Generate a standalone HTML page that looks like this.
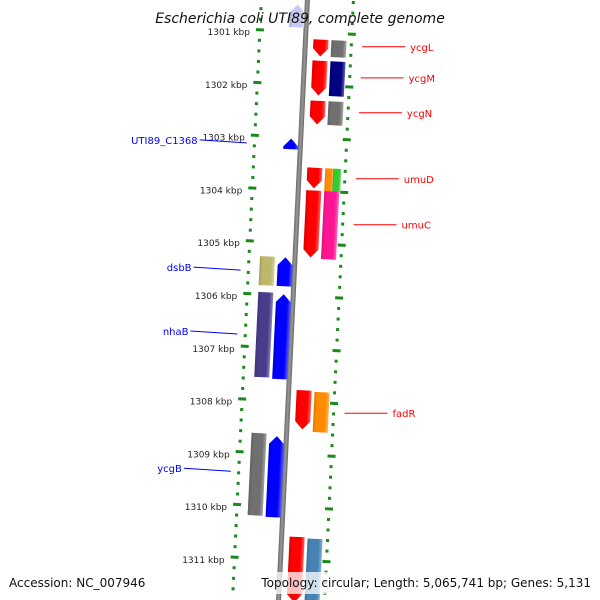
<!DOCTYPE html>
<html><head><meta charset="utf-8"><style>
html,body{margin:0;background:#fff;width:600px;height:600px;overflow:hidden}
svg{display:block;font-family:"DejaVu Sans","Liberation Sans",sans-serif;overflow:hidden}
</style></head><body>
<svg id="c" width="600" height="600" viewBox="0 0 600 600">
<defs>
<linearGradient id="shade" x1="0" x2="1" y1="0" y2="0">
<stop offset="0" stop-color="#000" stop-opacity="0.15"/>
<stop offset="0.2" stop-color="#000" stop-opacity="0"/>
<stop offset="0.75" stop-color="#fff" stop-opacity="0"/>
<stop offset="1" stop-color="#fff" stop-opacity="0.35"/>
</linearGradient>
<linearGradient id="bb" x1="0" x2="1"><stop offset="0" stop-color="#666"/><stop offset="0.5" stop-color="#999"/><stop offset="1" stop-color="#666"/></linearGradient>
<clipPath id="frame"><rect x="0" y="0" width="600" height="600"/></clipPath>
</defs>
<g clip-path="url(#frame)">
<g id="band" transform="rotate(2.75 305 50)"></g>
</g>
<g id="labels"></g>
<text x="300" y="23" text-anchor="middle" font-size="14" font-style="italic" fill="#111">Escherichia coli UTI89, complete genome</text>
<text x="9" y="587" font-size="12" fill="#111">Accession: NC_007946</text>
<rect x="258" y="572" width="336" height="22" fill="#fff" fill-opacity="0.75"/>
<text x="591" y="587" text-anchor="end" font-size="12" fill="#111">Topology: circular; Length: 5,065,741 bp; Genes: 5,131</text>
</svg>
<script>
const kbpTicks=[1301,1302,1303,1304,1305,1306,1307,1308,1309,1310,1311];
const geneNames=["top","ycgL","ycgL2","ycgM","ycgM2","ycgN","ycgN2","UTI89_C1368","umuD","umuD2","umuD3","umuC","umuC2","dsbB","dsbB2","nhaB","nhaB2","fadR","fadR2","ycgB","ycgB2","next","next2"];
const geneStart=[1300.49,1301.13,1301.13,1301.53,1301.53,1302.29,1302.29,1303.03,1303.56,1303.56,1303.56,1303.99,1303.99,1305.28,1305.28,1305.96,1305.98,1307.78,1307.80,1308.63,1308.67,1310.56,1310.58];
const geneEnd=[1300.92,1301.45,1301.45,1302.19,1302.19,1302.74,1302.74,1303.23,1303.95,1303.99,1303.99,1305.26,1305.28,1305.83,1305.83,1307.57,1307.59,1308.52,1308.56,1310.19,1310.21,1311.8,1311.8];
const geneLane=[-1,1,2,1,2,1,2,-1,1,2,2.5,1,2,-2,-1,-2,-1,1,2,-2,-1,1,2];
const geneStrand=[1,-1,0,-1,0,-1,0,1,-1,0,0,-1,0,0,1,0,1,-1,0,0,1,-1,0];
const geneColor=["#c8c8f0","#f00","#707070","#f00","#000080","#f00","#707070","#00f","#f00","#ff8c00","#3c3","#f00","#ff1493","#bdb76b","#00f","#483d8b","#00f","#f00","#ff8c00","#707070","#00f","#f00","#4682b4"];
const rightLabels=["ycgL","ycgM","ycgN","umuD","umuC","fadR"];
const rightLabelKbp=[1301.28,1301.87,1302.53,1303.78,1304.65,1308.22];
const leftLabels=["UTI89_C1368","dsbB","nhaB","ycgB"];
const leftLabelKbp=[1303.08,1305.49,1306.70,1309.30];

const NS="http://www.w3.org/2000/svg";
const band=document.getElementById('band'), labels=document.getElementById('labels');
const Y0=32, PX=52.8, CX=305, ANG=2.75*Math.PI/180;
function yOf(k){return Y0+(k-1301)*PX;}
function sx(lx,ly){return CX+(lx-CX)*Math.cos(ANG)-(ly-50)*Math.sin(ANG);}
function mk(tag,attrs,parent){const e=document.createElementNS(NS,tag);for(const k in attrs)e.setAttribute(k,attrs[k]);parent.appendChild(e);return e;}

const bbl=mk('rect',{x:CX-2.5,y:-20,width:5,height:640,fill:'url(#bb)'},band);



for(let k=1300.4;k<=1311.8;k+=0.2){
  const y=yOf(k); const major=Math.abs(k-Math.round(k))<0.01;
  [[259,'left'],[351,'right']].forEach(([x,s])=>{
    const t=mk('rect',{x:major?x-4:x-1.5,y:y-1.5,width:major?8:3,height:3,fill:'#1a8a1a'},band);
    
    
  });
}
kbpTicks.forEach(k=>{
  const y=yOf(k);
  const t=mk('text',{x:sx(249,y),y:y+3,'text-anchor':'end','font-size':'9',fill:'#222'},labels);
  t.textContent=k+' kbp';
  
  
});

const laneX={'1':[CX+8,15],'2':[CX+26,15],'2.5':[CX+34,8],'-1':[CX-17,15],'-2':[CX-35,15]};
geneNames.forEach((n,i)=>{
  const y1=yOf(geneStart[i]), y2=yOf(geneEnd[i]);
  let [x,w]=laneX[String(geneLane[i])];
  if(n==='umuD2') w=8;
  const h=8, s=geneStrand[i];
  let d;
  if(s===-1) d=`M${x},${y1}H${x+w}V${y2-h}L${x+w/2},${y2}L${x},${y2-h}Z`;
  else if(s===1) d=`M${x},${y2}H${x+w}V${y1+h}L${x+w/2},${y1}L${x},${y1+h}Z`;
  else d=`M${x},${y1}H${x+w}V${y2}H${x}Z`;
  const g=mk('g',{},band);
  
  
  mk('path',{d:d,fill:geneColor[i]},g);
  mk('path',{d:d,fill:'url(#shade)'},g);
});

rightLabels.forEach((n,i)=>{
  const y=yOf(rightLabelKbp[i]);
  const x0=sx(362,y);
  const l=mk('line',{x1:x0,y1:y,x2:x0+43,y2:y,stroke:'#f00','stroke-width':1},labels);
  
  
  const t=mk('text',{x:x0+48,y:y+4,'font-size':'10',fill:'#f00'},labels);
  t.textContent=n;
  
  
});
leftLabels.forEach((n,i)=>{
  const y=yOf(leftLabelKbp[i]);
  const x1=sx(251,y);
  const l=mk('line',{x1:x1-47,y1:y-2,x2:x1,y2:y+1,stroke:'#00f','stroke-width':1},labels);
  
  
  const t=mk('text',{x:x1-49,y:y+2,'text-anchor':'end','font-size':'10',fill:'#00f'},labels);
  t.textContent=n;
  
  
});
</script>
</body></html>
